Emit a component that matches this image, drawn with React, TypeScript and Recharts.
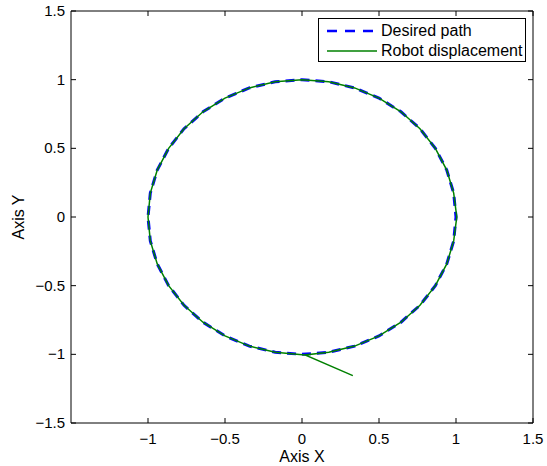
import React from 'react';
import { LineChart, Line, XAxis, YAxis, Legend } from 'recharts';

// Desired path (unit circle, sampled every 10 degrees starting at the bottom)
const desiredX = [0, 0.174, 0.342, 0.5, 0.643, 0.766, 0.866, 0.94, 0.985, 1, 0.985, 0.94, 0.866, 0.766, 0.643, 0.5, 0.342, 0.174, 0, -0.174, -0.342, -0.5, -0.643, -0.766, -0.866, -0.94, -0.985, -1, -0.985, -0.94, -0.866, -0.766, -0.643, -0.5, -0.342, -0.174, 0];
const desiredY = [-1, -0.985, -0.94, -0.866, -0.766, -0.643, -0.5, -0.342, -0.174, 0, 0.174, 0.342, 0.5, 0.643, 0.766, 0.866, 0.94, 0.985, 1, 0.985, 0.94, 0.866, 0.766, 0.643, 0.5, 0.342, 0.174, 0, -0.174, -0.342, -0.5, -0.643, -0.766, -0.866, -0.94, -0.985, -1];

// Robot displacement: starts off the path, joins it near the bottom, then follows it
const robotX = [0.33, 0.02, 0.174, 0.342, 0.5, 0.643, 0.766, 0.866, 0.94, 0.985, 1.005, 0.985, 0.94, 0.866, 0.766, 0.643, 0.5, 0.342, 0.174, 0, -0.174, -0.342, -0.5, -0.643, -0.766, -0.866, -0.94, -0.985, -1, -0.985, -0.94, -0.866, -0.766, -0.643, -0.5, -0.342, -0.174, 0.02];
const robotY = [-1.155, -1.005, -0.985, -0.94, -0.866, -0.766, -0.643, -0.5, -0.342, -0.174, 0, 0.174, 0.342, 0.5, 0.643, 0.766, 0.866, 0.94, 0.985, 1, 0.985, 0.94, 0.866, 0.766, 0.643, 0.5, 0.342, 0.174, 0, -0.174, -0.342, -0.5, -0.643, -0.766, -0.866, -0.94, -0.985, -1.005];

const xTicks = [-1, -0.5, 0, 0.5, 1, 1.5];
const yTicks = [-1.5, -1, -0.5, 0, 0.5, 1, 1.5];

const seriesNames = ['Desired path', 'Robot displacement'];

const desiredData = desiredX.map((x, i) => ({ x, y: desiredY[i] }));
const robotData = robotX.map((x, i) => ({ x, y: robotY[i] }));

const FONT = '"Liberation Sans", Arial, Helvetica, sans-serif';
const FS = 15;
const LFS = 16;
const TICK = 5;

const fmt = (v: number) => String(v).replace('-', '\u2212');

const BottomTick = (props: any) => {
  const { x, y, payload } = props;
  return (
    <g>
      <line x1={x} x2={x} y1={y} y2={y - TICK} stroke="#000" strokeWidth={1} />
      <text x={x} y={y + 21} textAnchor="middle" fontSize={FS} fontFamily={FONT} fill="#000">
        {fmt(payload.value)}
      </text>
    </g>
  );
};

const TopTick = (props: any) => {
  const { x, y } = props;
  return <line x1={x} x2={x} y1={y} y2={y + TICK} stroke="#000" strokeWidth={1} />;
};

const LeftTick = (props: any) => {
  const { x, y, payload } = props;
  return (
    <g>
      <line x1={x} x2={x + TICK} y1={y} y2={y} stroke="#000" strokeWidth={1} />
      <text x={x - 6} y={y + 5} textAnchor="end" fontSize={FS} fontFamily={FONT} fill="#000">
        {fmt(payload.value)}
      </text>
    </g>
  );
};

const RightTick = (props: any) => {
  const { x, y } = props;
  return <line x1={x} x2={x - TICK} y1={y} y2={y} stroke="#000" strokeWidth={1} />;
};

const XLabel = (props: any) => {
  const vb = props.viewBox;
  return (
    <text x={vb.x + vb.width / 2} y={vb.y + 39} textAnchor="middle" fontSize={LFS} fontFamily={FONT} fill="#000">
      Axis X
    </text>
  );
};

const YLabel = (props: any) => {
  const vb = props.viewBox;
  const cx = vb.x + 24;
  const cy = vb.y + vb.height / 2;
  return (
    <text x={cx} y={cy} transform={`rotate(-90 ${cx} ${cy})`} textAnchor="middle" fontSize={LFS} fontFamily={FONT} fill="#000">
      Axis Y
    </text>
  );
};

const LegendBox = () => (
  <div
    style={{
      border: '1px solid #000',
      background: '#fff',
      width: 208,
      height: 44,
      boxSizing: 'border-box',
      padding: '2px 0 0 8px',
      fontFamily: FONT,
      fontSize: LFS,
      color: '#000',
    }}
  >
    <div style={{ display: 'flex', alignItems: 'center', height: 20 }}>
      <svg width={50} height={10} style={{ marginRight: 4 }}>
        <line x1={0} x2={50} y1={5} y2={5} stroke="#0000ff" strokeWidth={2.5} strokeDasharray="10 8" />
      </svg>
      <span>{seriesNames[0]}</span>
    </div>
    <div style={{ display: 'flex', alignItems: 'center', height: 20 }}>
      <svg width={50} height={10} style={{ marginRight: 4 }}>
        <line x1={0} x2={50} y1={5} y2={5} stroke="#008000" strokeWidth={1.5} />
      </svg>
      <span>{seriesNames[1]}</span>
    </div>
  </div>
);

export default function App() {
  return (
    <div style={{ position: 'absolute', left: 0, top: 0, background: '#fff' }}>
      <LineChart width={547} height={466} margin={{ top: 10, right: 13, left: 0, bottom: 0 }}>
        <XAxis
          xAxisId="b"
          type="number"
          dataKey="x"
          domain={[-1.5, 1.5]}
          ticks={xTicks}
          interval={0}
          allowDataOverflow
          height={43}
          tickSize={0}
          tickMargin={0}
          tickLine={false}
          axisLine={{ stroke: '#000', strokeWidth: 1 }}
          tick={<BottomTick />}
          label={<XLabel />}
        />
        <XAxis
          xAxisId="t"
          orientation="top"
          type="number"
          dataKey="x"
          domain={[-1.5, 1.5]}
          ticks={xTicks}
          interval={0}
          allowDataOverflow
          height={1}
          tickSize={0}
          tickMargin={0}
          tickLine={false}
          axisLine={{ stroke: '#000', strokeWidth: 1 }}
          tick={<TopTick />}
        />
        <YAxis
          yAxisId="l"
          type="number"
          dataKey="y"
          domain={[-1.5, 1.5]}
          ticks={yTicks}
          interval={0}
          allowDataOverflow
          width={71}
          tickSize={0}
          tickMargin={0}
          tickLine={false}
          axisLine={{ stroke: '#000', strokeWidth: 1 }}
          tick={<LeftTick />}
          label={<YLabel />}
        />
        <YAxis
          yAxisId="r"
          orientation="right"
          type="number"
          dataKey="y"
          domain={[-1.5, 1.5]}
          ticks={yTicks}
          interval={0}
          allowDataOverflow
          width={1}
          tickSize={0}
          tickMargin={0}
          tickLine={false}
          axisLine={{ stroke: '#000', strokeWidth: 1 }}
          tick={<RightTick />}
        />
        <Legend
          verticalAlign="middle"
          align="center"
          layout="vertical"
          content={<LegendBox />}
          wrapperStyle={{ position: 'absolute', top: 18, left: 318, width: 208, right: 'auto', bottom: 'auto' }}
        />
        <Line
          xAxisId="t"
          yAxisId="r"
          data={desiredData}
          dataKey="y"
          legendType="none"
          type="linear"
          stroke="none"
          dot={false}
          activeDot={false}
          isAnimationActive={false}
        />
        <Line
          xAxisId="b"
          yAxisId="l"
          data={desiredData}
          dataKey="y"
          name={seriesNames[0]}
          type="linear"
          stroke="#0000ff"
          strokeWidth={3}
          strokeDasharray="9 6"
          dot={false}
          activeDot={false}
          isAnimationActive={false}
        />
        <Line
          xAxisId="b"
          yAxisId="l"
          data={robotData}
          dataKey="y"
          name={seriesNames[1]}
          type="linear"
          stroke="#008000"
          strokeWidth={1.5}
          dot={false}
          activeDot={false}
          isAnimationActive={false}
        />
      </LineChart>
    </div>
  );
}
